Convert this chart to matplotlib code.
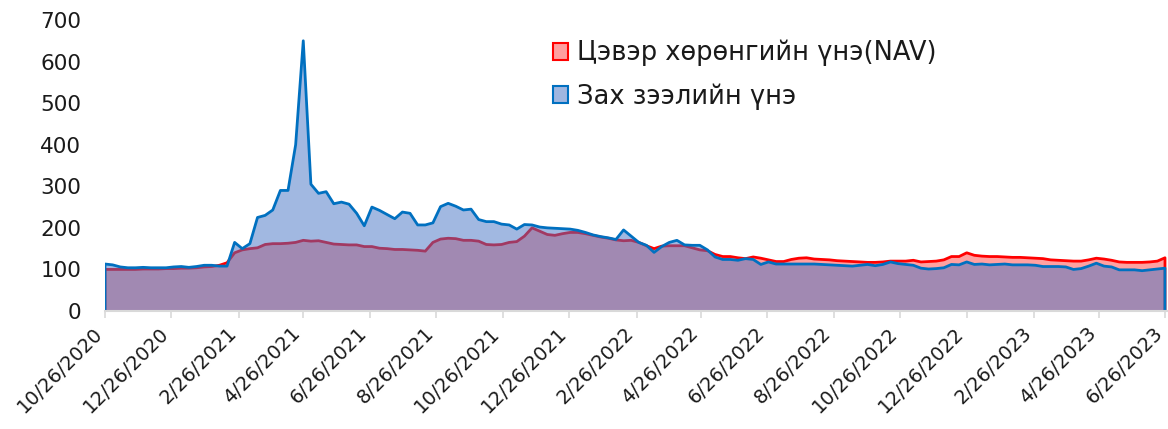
#!/usr/bin/env python
# -*- coding: utf-8 -*-

"""
ETF: net asset value (NAV) vs market price, weekly, Oct 2020 - Jun 2023.
"""

# imports (3rd party)
import matplotlib as mpl; mpl.use('Agg')
import matplotlib.pyplot as plt
from matplotlib.patches import Patch
from matplotlib.transforms import ScaledTranslation
import pandas as pd

# data (weekly, first point 10/26/2020)
start_date = '2020-10-26'
nav = [
    100, 100, 100, 100, 100, 101, 101, 101, 102, 102,
    103, 103, 104, 106, 107, 110, 116, 140, 147, 150,
    152, 160, 162, 162, 163, 165, 170, 168, 169, 165,
    161, 160, 159, 159, 155, 155, 151, 150, 148, 148,
    147, 146, 144, 165, 173, 175, 174, 170, 170, 168,
    160, 159, 160, 165, 167, 180, 200, 192, 184, 182,
    186, 189, 189, 186, 182, 178, 175, 171, 169, 170,
    165, 157, 150, 156, 157, 157, 157, 152, 147, 145,
    136, 131, 131, 128, 126, 130, 127, 123, 119, 119,
    124, 127, 128, 125, 124, 123, 121, 120, 119, 118,
    117, 117, 118, 120, 120, 120, 122, 118, 119, 120,
    123, 131, 131, 140, 134, 132, 131, 131, 130, 129,
    129, 128, 127, 126, 123, 122, 121, 120, 120, 123,
    127, 125, 122, 118, 117, 117, 117, 118, 120, 128,
]
market = [
    113, 111, 106, 104, 104, 105, 104, 104, 104, 106,
    107, 105, 107, 110, 110, 108, 108, 165, 150, 162,
    225, 230, 243, 290, 290, 400, 650, 305, 283, 287,
    258, 262, 257, 235, 205, 250, 242, 232, 222, 238,
    235, 207, 207, 212, 251, 259, 252, 243, 245, 220,
    215, 215, 209, 207, 197, 208, 207, 202, 200, 199,
    198, 197, 194, 189, 183, 179, 176, 172, 195, 180,
    165, 158, 141, 155, 165, 170, 159, 158, 158, 147,
    130, 124, 124, 122, 126, 124, 112, 118, 113, 113,
    113, 113, 113, 113, 112, 111, 110, 109, 108, 110,
    112, 109, 112, 118, 114, 112, 110, 103, 101, 102,
    104, 112, 111, 118, 112, 113, 111, 112, 113, 111,
    111, 111, 110, 107, 107, 107, 106, 100, 102, 108,
    115, 108, 106, 99, 99, 99, 97, 99, 101, 103,
]
tick_dates = [
    '2020-10-26', '2020-12-26', '2021-02-26', '2021-04-26', '2021-06-26',
    '2021-08-26', '2021-10-26', '2021-12-26', '2022-02-26', '2022-04-26',
    '2022-06-26', '2022-08-26', '2022-10-26', '2022-12-26', '2023-02-26',
    '2023-04-26', '2023-06-26',
]
y_ticks = [0, 100, 200, 300, 400, 500, 600, 700]
labels = ['Цэвэр хөрөнгийн үнэ(NAV)', 'Зах зээлийн үнэ']

# colors
red_line = '#FF0000'
blue_line = '#0070C0'
blue_fill = '#4472C4'
text_color = '#1A1A1A'


def draw_nav_chart(output_path: str = 'out.png'):
    """Draw NAV vs market price area chart."""
    plt.rcParams['font.family'] = ['DejaVu Sans']
    fig = plt.figure(figsize=(11.68, 4.29), dpi=100)
    ax = fig.add_axes([105/1168, 1 - 311/429, 1062/1168, 291/429])

    dates = pd.date_range(start_date, periods=len(nav), freq='7D')
    # closed outline at both ends, like the spreadsheet area border
    edge_dates = [dates[0]] + list(dates) + [dates[-1]]

    # --- NAV (behind)
    ax.fill_between(dates, 0, nav, color=red_line, alpha=0.37, lw=0, zorder=1)
    ax.plot(edge_dates, [0] + nav + [0], color=red_line, lw=2, zorder=1.5)
    # --- market price (front, translucent, covers the NAV line)
    ax.fill_between(dates, 0, market, color=blue_fill, alpha=0.5, lw=0, zorder=2)
    ax.plot(edge_dates, [0] + market + [0], color=blue_line, lw=2, zorder=2.5)

    # --- axes
    ax.set_ylim(0, 700)
    ax.set_xlim(pd.Timestamp(start_date), pd.Timestamp(start_date) + pd.Timedelta(days=1062/1.0894))
    ax.set_yticks(y_ticks)
    ax.tick_params(axis='y', length=0, pad=17, labelsize=15.5, labelcolor=text_color)
    ticks = pd.to_datetime(tick_dates)
    ax.set_xticks(ticks)
    ax.set_xticklabels([f'{d.month}/{d.day}/{d.year}' for d in ticks],
                       rotation=45, ha='right', va='center', rotation_mode='anchor')
    ax.tick_params(axis='x', length=5, width=1.2, color='#D9D9D9', pad=9,
                   labelsize=14, labelcolor=text_color)
    # nudge labels a little left so the last one stays inside the canvas
    shift = ScaledTranslation(-4/72, 0, fig.dpi_scale_trans)
    for lab in ax.get_xticklabels():
        lab.set_transform(lab.get_transform() + shift)
    for side in ['top', 'right', 'left']:
        ax.spines[side].set_visible(False)
    ax.spines['bottom'].set_color('#D9D9D9')
    ax.spines['bottom'].set_linewidth(1.5)
    ax.spines['bottom'].set_zorder(5)

    # --- legend
    handles = [
        Patch(facecolor='#FFA0A0', edgecolor=red_line, lw=1.5),
        Patch(facecolor='#A0B6E0', edgecolor=blue_line, lw=1.5),
    ]
    fig.legend(handles, labels, loc='upper left', bbox_to_anchor=(553/1168, 1 - 40/429),
               frameon=False, fontsize=18.5, borderpad=0, borderaxespad=0,
               handlelength=0.6, handleheight=0.6, handletextpad=0.35,
               labelspacing=0.65, labelcolor=text_color)

    fig.savefig(output_path, dpi=100)


if __name__ == '__main__':
    draw_nav_chart()
